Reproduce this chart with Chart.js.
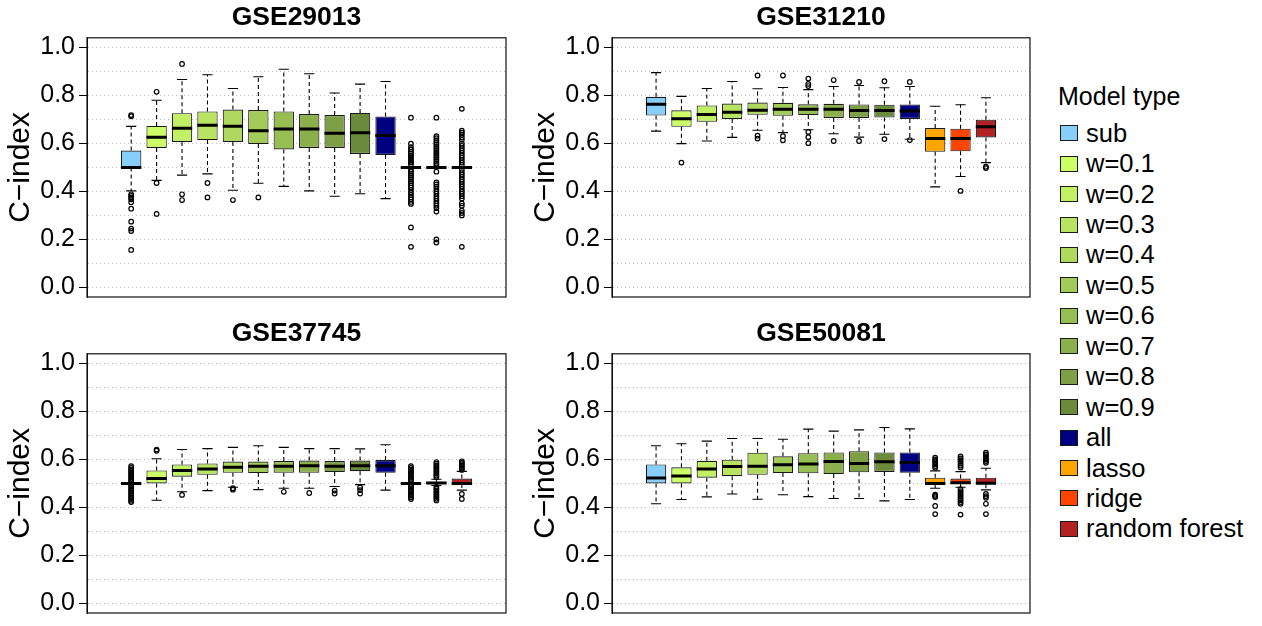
<!DOCTYPE html>
<html>
<head>
<meta charset="utf-8">
<script src="https://cdn.jsdelivr.net/npm/chart.js@4.4.1/dist/chart.umd.min.js"></script>
<style>
  body { margin: 0; background: #fff; width: 1262px; height: 626px; position: relative; overflow: hidden;
         font-family: "Liberation Sans", Arial, sans-serif; }
  .panel { position: absolute; width: 520px; height: 316px; }
  #legend { position: absolute; left: 1058px; top: 80px; color: #000; }
  #legend .head { font-size: 25px; line-height: 32px; height: 32px; margin-bottom: 6px; }
  #legend .row { display: flex; align-items: center; height: 30.45px; font-size: 25.5px; }
  #legend .sw { width: 18px; height: 16px; box-sizing: border-box; border: 1.5px solid #1a1a1a; margin: 0 8px 0 2px; }
</style>
</head>
<body>
<div class="panel" style="left:0;top:0"><canvas id="p1"></canvas></div>
<div class="panel" style="left:525px;top:0;width:519px"><canvas id="p2"></canvas></div>
<div class="panel" style="left:0;top:316px"><canvas id="p3"></canvas></div>
<div class="panel" style="left:525px;top:316px;width:519px"><canvas id="p4"></canvas></div>
<div id="legend"><div class="head">Model type</div></div>

<script>
// model types, in box order
const modelTypes = ['sub', 'w=0.1', 'w=0.2', 'w=0.3', 'w=0.4', 'w=0.5', 'w=0.6', 'w=0.7', 'w=0.8', 'w=0.9',
  'all', 'lasso', 'ridge', 'random forest'];
const modelColors = ['#87CEFA', '#CCFF66', '#C2F064', '#B9E462', '#AED85E', '#A3CB59', '#97BE52', '#8BAF4B',
  '#7E9F45', '#6B8A3C', '#000080', '#FFA500', '#FF4500', '#B22222'];

// GSE29013
const gse29013Lo  = [0.402, 0.446, 0.468, 0.473, 0.405, 0.434, 0.421, 0.402, 0.380, 0.390, 0.370, 0.5, 0.5, 0.5];
const gse29013Q1  = [0.500, 0.581, 0.606, 0.614, 0.606, 0.597, 0.575, 0.581, 0.581, 0.556, 0.552, 0.5, 0.5, 0.5];
const gse29013Med = [0.500, 0.626, 0.663, 0.676, 0.671, 0.653, 0.660, 0.660, 0.642, 0.644, 0.633, 0.5, 0.5, 0.5];
const gse29013Q3  = [0.570, 0.673, 0.726, 0.733, 0.741, 0.739, 0.733, 0.722, 0.718, 0.727, 0.712, 0.5, 0.5, 0.5];
const gse29013Hi  = [0.671, 0.780, 0.866, 0.886, 0.829, 0.878, 0.909, 0.890, 0.810, 0.847, 0.858, 0.5, 0.5, 0.5];
const gse29013Out = [
  [0.718, 0.713, 0.388, 0.381, 0.374, 0.367, 0.355, 0.328, 0.274, 0.245, 0.235, 0.156],
  [0.815, 0.435, 0.306],
  [0.931, 0.388, 0.364],
  [0.435, 0.375],
  [0.364],
  [0.375],
  [], [], [], [], [],
  [0.707, 0.599, 0.584, 0.575, 0.566, 0.558, 0.550, 0.543, 0.535, 0.527, 0.520, 0.512, 0.490, 0.482, 0.474,
   0.466, 0.458, 0.450, 0.442, 0.434, 0.425, 0.416, 0.406, 0.395, 0.385, 0.375, 0.366, 0.356, 0.348, 0.250, 0.169],
  [0.707, 0.630, 0.622, 0.613, 0.604, 0.596, 0.588, 0.580, 0.572, 0.564, 0.556, 0.548, 0.540, 0.532, 0.524,
   0.516, 0.509, 0.482, 0.437, 0.429, 0.420, 0.410, 0.400, 0.390, 0.380, 0.370, 0.360, 0.350, 0.340, 0.330,
   0.316, 0.200, 0.187],
  [0.744, 0.653, 0.645, 0.636, 0.625, 0.615, 0.600, 0.590, 0.580, 0.570, 0.560, 0.550, 0.540, 0.530, 0.520,
   0.510, 0.490, 0.480, 0.470, 0.460, 0.450, 0.440, 0.430, 0.420, 0.410, 0.400, 0.390, 0.380, 0.370, 0.350,
   0.340, 0.320, 0.310, 0.300, 0.169]
];

// GSE31210
const gse31210Lo  = [0.651, 0.599, 0.610, 0.625, 0.655, 0.645, 0.657, 0.640, 0.626, 0.638, 0.617, 0.419, 0.462, 0.520];
const gse31210Q1  = [0.716, 0.669, 0.690, 0.702, 0.719, 0.715, 0.718, 0.706, 0.706, 0.708, 0.702, 0.565, 0.567, 0.625];
const gse31210Med = [0.763, 0.703, 0.720, 0.730, 0.738, 0.742, 0.742, 0.742, 0.737, 0.737, 0.735, 0.620, 0.620, 0.669];
const gse31210Q3  = [0.794, 0.738, 0.758, 0.766, 0.770, 0.769, 0.763, 0.765, 0.762, 0.761, 0.762, 0.664, 0.661, 0.699];
const gse31210Hi  = [0.895, 0.796, 0.829, 0.858, 0.828, 0.833, 0.824, 0.837, 0.841, 0.832, 0.837, 0.755, 0.761, 0.790];
const gse31210Out = [
  [], [0.520], [], [],
  [0.883, 0.632, 0.620],
  [0.883, 0.630, 0.613],
  [0.870, 0.848, 0.839, 0.648, 0.626, 0.601],
  [0.864, 0.610],
  [0.856, 0.610],
  [0.859, 0.618],
  [0.856, 0.614],
  [],
  [0.402],
  [0.503, 0.497]
];

// GSE37745
const gse37745Lo  = [0.5, 0.430, 0.465, 0.470, 0.484, 0.474, 0.480, 0.480, 0.487, 0.495, 0.472, 0.5, 0.491, 0.472];
const gse37745Q1  = [0.5, 0.500, 0.528, 0.536, 0.544, 0.543, 0.544, 0.544, 0.547, 0.551, 0.544, 0.5, 0.497, 0.497];
const gse37745Med = [0.5, 0.520, 0.554, 0.560, 0.567, 0.571, 0.571, 0.574, 0.571, 0.574, 0.574, 0.5, 0.502, 0.500];
const gse37745Q3  = [0.5, 0.554, 0.579, 0.583, 0.591, 0.591, 0.593, 0.595, 0.593, 0.595, 0.597, 0.5, 0.507, 0.520];
const gse37745Hi  = [0.5, 0.603, 0.641, 0.645, 0.650, 0.657, 0.650, 0.645, 0.645, 0.644, 0.661, 0.5, 0.517, 0.550];
const gse37745Out = [
  [0.572, 0.565, 0.558, 0.552, 0.545, 0.538, 0.532, 0.525, 0.518, 0.512, 0.506, 0.494, 0.488, 0.481, 0.474,
   0.468, 0.461, 0.455, 0.448, 0.441, 0.435, 0.428, 0.422],
  [0.641, 0.636],
  [0.452],
  [],
  [0.480, 0.474],
  [],
  [0.465],
  [0.460],
  [0.470, 0.458],
  [0.483, 0.472, 0.458],
  [],
  [0.572, 0.565, 0.558, 0.551, 0.544, 0.537, 0.530, 0.523, 0.516, 0.509, 0.491, 0.484, 0.477, 0.470, 0.463,
   0.456, 0.449, 0.442, 0.435],
  [0.589, 0.582, 0.575, 0.568, 0.561, 0.554, 0.547, 0.540, 0.533, 0.526, 0.485, 0.478, 0.471, 0.464, 0.457,
   0.450, 0.443, 0.436, 0.429],
  [0.592, 0.586, 0.580, 0.574, 0.568, 0.562, 0.556, 0.456, 0.435]
];

// GSE50081
const gse50081Lo  = [0.415, 0.433, 0.444, 0.456, 0.434, 0.453, 0.445, 0.437, 0.437, 0.427, 0.433, 0.480, 0.484, 0.473];
const gse50081Q1  = [0.500, 0.500, 0.524, 0.530, 0.536, 0.543, 0.542, 0.539, 0.546, 0.548, 0.544, 0.497, 0.497, 0.496];
const gse50081Med = [0.522, 0.531, 0.560, 0.570, 0.571, 0.578, 0.581, 0.591, 0.583, 0.590, 0.587, 0.500, 0.503, 0.501];
const gse50081Q3  = [0.579, 0.567, 0.594, 0.599, 0.628, 0.613, 0.626, 0.629, 0.634, 0.629, 0.629, 0.524, 0.520, 0.524];
const gse50081Hi  = [0.657, 0.665, 0.676, 0.687, 0.687, 0.684, 0.726, 0.718, 0.723, 0.733, 0.727, 0.552, 0.549, 0.563];
const gse50081Out = [
  [], [], [], [], [], [], [], [], [], [], [],
  [0.607, 0.600, 0.594, 0.588, 0.580, 0.572, 0.565, 0.453, 0.448, 0.443, 0.406, 0.372],
  [0.612, 0.604, 0.597, 0.590, 0.582, 0.574, 0.566, 0.476, 0.468, 0.460, 0.452, 0.445, 0.437, 0.430, 0.422,
   0.415, 0.370],
  [0.628, 0.621, 0.614, 0.607, 0.600, 0.593, 0.586, 0.456, 0.447, 0.440, 0.415, 0.372]
];

const FONT = '"Liberation Sans", Arial, sans-serif';
Chart.defaults.font.family = FONT;
Chart.defaults.color = '#000';

// box frame around the plot region, like R's box()
const framePlugin = {
  id: 'frame',
  afterDraw(chart) {
    const { ctx, chartArea: a } = chart;
    ctx.save();
    ctx.strokeStyle = '#111';
    ctx.lineWidth = 1.2;
    ctx.strokeRect(a.left, a.top, a.right - a.left, a.bottom - a.top);
    ctx.restore();
  }
};

const isLabelled = v => Math.round(v * 10) % 2 === 0;

function makeBoxChart(id, title, lo, q1, med, q3, hi, out) {
  const whiskers = [], caps = [], medians = [], boxes = [], points = [];
  modelTypes.forEach((m, i) => {
    whiskers.push({ x: i, y: q3[i] }, { x: i, y: hi[i] }, { x: i, y: null },
                  { x: i, y: q1[i] }, { x: i, y: lo[i] }, { x: i, y: null });
    caps.push({ x: i - 0.2, y: hi[i] }, { x: i + 0.2, y: hi[i] }, { x: i, y: null },
              { x: i - 0.2, y: lo[i] }, { x: i + 0.2, y: lo[i] }, { x: i, y: null });
    medians.push({ x: i - 0.4, y: med[i] }, { x: i + 0.4, y: med[i] }, { x: i, y: null });
    boxes.push({ x: i, y: [q1[i], q3[i]] });
    out[i].forEach(v => points.push({ x: i, y: v }));
  });

  const segLine = { type: 'line', pointRadius: 0, tension: 0, fill: false, spanGaps: false, borderColor: '#000' };

  new Chart(document.getElementById(id), {
    data: {
      datasets: [
        { ...segLine, data: whiskers, borderWidth: 1.1, borderDash: [4, 3], order: 4 },
        { ...segLine, data: caps, borderWidth: 1.1, order: 4 },
        { type: 'bar', data: boxes, backgroundColor: modelColors, borderColor: '#1a1a1a', borderWidth: 1.1,
          borderSkipped: false, categoryPercentage: 1, barPercentage: 0.8, order: 3 },
        { ...segLine, data: medians, borderWidth: 3, order: 2 },
        { type: 'scatter', data: points, pointRadius: 2.3, pointBorderWidth: 1.2, pointBorderColor: '#000',
          pointBackgroundColor: 'rgba(0,0,0,0)', order: 1 }
      ]
    },
    options: {
      responsive: true,
      maintainAspectRatio: false,
      animation: false,
      layout: { padding: { left: 0, right: 14, top: 0, bottom: 10 } },
      plugins: {
        legend: { display: false },
        tooltip: { enabled: false },
        title: { display: true, text: title, fullSize: false, color: '#000',
                 font: { size: 26.5, weight: 'bold' }, padding: { top: 2, bottom: 4 } }
      },
      scales: {
        x: { type: 'linear', min: -0.56, max: 13.56, display: false },
        y: {
          min: -0.04, max: 1.04,
          afterFit(scale) { scale.width = 87; },
          ticks: {
            stepSize: 0.1, includeBounds: false, autoSkip: false, padding: 4,
            font: { size: 25 }, color: '#000',
            callback: v => (isLabelled(v) ? v.toFixed(1) : '')
          },
          grid: {
            color: '#bdbdbd', lineWidth: 1, tickLength: 8, tickWidth: 1,
            tickColor: c => (c.tick && isLabelled(c.tick.value) ? '#000' : 'rgba(0,0,0,0)')
          },
          border: { display: true, color: '#111', dash: [1, 3] },
          title: { display: true, text: 'C\u2212index', color: '#000', font: { size: 30 },
                   padding: { top: 3, bottom: 0 } }
        }
      }
    },
    plugins: [framePlugin]
  });
}

makeBoxChart('p1', 'GSE29013', gse29013Lo, gse29013Q1, gse29013Med, gse29013Q3, gse29013Hi, gse29013Out);
makeBoxChart('p2', 'GSE31210', gse31210Lo, gse31210Q1, gse31210Med, gse31210Q3, gse31210Hi, gse31210Out);
makeBoxChart('p3', 'GSE37745', gse37745Lo, gse37745Q1, gse37745Med, gse37745Q3, gse37745Hi, gse37745Out);
makeBoxChart('p4', 'GSE50081', gse50081Lo, gse50081Q1, gse50081Med, gse50081Q3, gse50081Hi, gse50081Out);

// legend
const legend = document.getElementById('legend');
modelTypes.forEach((m, i) => {
  const row = document.createElement('div');
  row.className = 'row';
  const sw = document.createElement('span');
  sw.className = 'sw';
  sw.style.background = modelColors[i];
  const label = document.createElement('span');
  label.textContent = m;
  row.appendChild(sw);
  row.appendChild(label);
  legend.appendChild(row);
});
</script>
</body>
</html>
